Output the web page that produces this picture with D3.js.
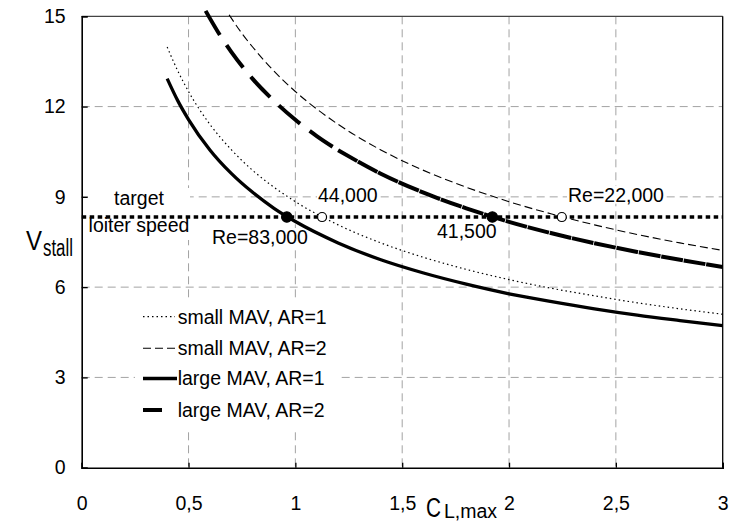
<!DOCTYPE html>
<html><head><meta charset="utf-8">
<script src="https://cdn.jsdelivr.net/npm/d3@7"></script>
<style>
html,body{margin:0;padding:0;background:#fff;}
text{font-family:"Liberation Sans",Arial,sans-serif;fill:#000;}
</style></head>
<body><svg id="c" width="747" height="523"></svg>
<script>
// ---- data ----
const xTicks = [0, 0.5, 1, 1.5, 2, 2.5, 3];
const xTickLabels = ["0", "0,5", "1", "1,5", "2", "2,5", "3"];
const yTicks = [0, 3, 6, 9, 12, 15];
const yTickLabels = ["0", "3", "6", "9", "12", "15"];

const clSmall1 = [0.4, 0.45, 0.5, 0.6, 0.7, 0.8, 0.9, 1.0, 1.2, 1.4, 1.6, 1.8, 2.0, 2.2, 2.4, 2.6, 2.8, 3.0];
const vSmall1  = [13.98, 13.18, 12.50, 11.41, 10.57, 9.88, 9.32, 8.84, 8.07, 7.47, 6.99, 6.59, 6.25, 5.96, 5.71, 5.48, 5.28, 5.10];
const clSmall2 = [0.69, 0.75, 0.8, 0.9, 1.0, 1.1, 1.2, 1.4, 1.6, 1.8, 2.0, 2.2, 2.4, 2.6, 2.8, 3.0];
const vSmall2  = [15.05, 14.43, 13.98, 13.18, 12.50, 11.92, 11.41, 10.56, 9.88, 9.32, 8.84, 8.43, 8.07, 7.75, 7.47, 7.22];
const clLarge1 = [0.4, 0.45, 0.5, 0.6, 0.7, 0.8, 0.9, 1.0, 1.2, 1.4, 1.6, 1.8, 2.0, 2.2, 2.4, 2.6, 2.8, 3.0];
const vLarge1  = [12.93, 12.19, 11.57, 10.56, 9.78, 9.15, 8.62, 8.18, 7.47, 6.91, 6.47, 6.10, 5.78, 5.52, 5.28, 5.07, 4.89, 4.72];
const clLarge2 = [0.58, 0.65, 0.7, 0.8, 0.9, 1.0, 1.1, 1.2, 1.4, 1.6, 1.8, 2.0, 2.2, 2.4, 2.6, 2.8, 3.0];
const vLarge2  = [15.18, 14.34, 13.82, 12.92, 12.19, 11.56, 11.02, 10.55, 9.77, 9.14, 8.62, 8.17, 7.79, 7.46, 7.17, 6.91, 6.67];

const targetSpeed = 8.33;
const markerCL = [0.96, 1.125, 1.922, 2.247];
const markerFilled = [true, false, true, false];
const markerLabels = ["Re=83,000", "44,000", "41,500", "Re=22,000"];

const legendLabels = ["small MAV, AR=1", "small MAV, AR=2", "large MAV, AR=1", "large MAV, AR=2"];

// ---- chart ----
const svg = d3.select("#c");
const x = d3.scaleLinear().domain([0, 3]).range([81.7, 722.7]);
const y = d3.scaleLinear().domain([0, 15]).range([467.7, 16.3]);
const FS = 19.5;

// grid
const grid = svg.append("g").attr("stroke", "#a3a3a3").attr("stroke-width", 1).attr("stroke-dasharray", "8,5");
xTicks.filter(d => d > 0 && d < 3).forEach(d => {
  grid.append("line").attr("x1", x(d)).attr("x2", x(d)).attr("y1", y(15)).attr("y2", y(0));
});
yTicks.filter(d => d > 0 && d < 15).forEach(d => {
  grid.append("line").attr("x1", x(0)).attr("x2", x(3)).attr("y1", y(d)).attr("y2", y(d));
});

// frame
svg.append("line").attr("x1", x(0)).attr("x2", x(3)).attr("y1", y(15)).attr("y2", y(15)).attr("stroke", "#444").attr("stroke-width", 1.3);
svg.append("line").attr("x1", x(3)).attr("x2", x(3)).attr("y1", y(15)).attr("y2", y(0)).attr("stroke", "#000").attr("stroke-width", 1.3);

// axes
const xAxis = d3.axisBottom(x).tickValues(xTicks).tickSize(-5).tickFormat((d, i) => xTickLabels[i]).tickPadding(28);
const gx = svg.append("g").attr("transform", `translate(0,${y(0)})`).call(xAxis);
gx.select(".domain").attr("stroke", "#000").attr("stroke-width", 1.6);
gx.selectAll(".tick line").attr("stroke", "#000").attr("stroke-width", 1.3);
gx.selectAll(".tick text").style("font-size", FS + "px").style("font-family", "Liberation Sans, Arial, sans-serif");

const yAxis = d3.axisLeft(y).tickValues(yTicks).tickSize(-6).tickFormat((d, i) => yTickLabels[i]).tickPadding(16);
const gy = svg.append("g").attr("transform", `translate(${x(0)},0)`).call(yAxis);
gy.select(".domain").attr("stroke", "#000").attr("stroke-width", 1.6);
gy.selectAll(".tick line").attr("stroke", "#000").attr("stroke-width", 1.3);
gy.selectAll(".tick text").style("font-size", FS + "px").style("font-family", "Liberation Sans, Arial, sans-serif");

// axis titles
svg.append("text").attr("x", 26).attr("y", 250).style("font-size", "28px")
  .attr("textLength", 16).attr("lengthAdjust", "spacingAndGlyphs").text("V");
svg.append("text").attr("x", 43).attr("y", 256).style("font-size", "23px")
  .attr("textLength", 30).attr("lengthAdjust", "spacingAndGlyphs").text("stall");
svg.append("text").attr("x", 426).attr("y", 517).style("font-size", "27px")
  .attr("textLength", 15).attr("lengthAdjust", "spacingAndGlyphs").text("C");
svg.append("text").attr("x", 444).attr("y", 518).style("font-size", FS + "px").text("L,max");

// label boxes + texts
const lab = svg.append("g");
function plainText(tx, ty, str, anchor) {
  return lab.append("text").attr("x", tx).attr("y", ty).attr("text-anchor", anchor || "start").style("font-size", FS + "px").text(str);
}
lab.append("rect").attr("x", 88).attr("y", 188).attr("width", 102).attr("height", 52).attr("fill", "#fff");
const labelPos = [
  {x: 212, y: 244}, {x: 318, y: 201.7}, {x: 437, y: 238.3}, {x: 568, y: 201.7}
];
const labelTexts = markerLabels.map((s, i) => plainText(labelPos[i].x, labelPos[i].y, s));
plainText(139, 205, "target", "middle");
plainText(139, 232, "loiter speed", "middle");
labelTexts.forEach(t => {
  const b = t.node().getBBox();
  lab.insert("rect", "text").attr("x", b.x - 1).attr("y", b.y + 2).attr("width", b.width + 2).attr("height", b.height - 4).attr("fill", "#fff");
});

// curves
const line = d3.line().x(d => x(d[0])).y(d => y(d[1])).curve(d3.curveMonotoneX);
const zip = (a, b) => a.map((v, i) => [v, b[i]]);
const curves = svg.append("g").attr("fill", "none").attr("stroke", "#000");
curves.append("path").attr("d", line(zip(clSmall1, vSmall1))).attr("stroke-width", 1.2).attr("stroke-dasharray", "1.5,3");
curves.append("path").attr("d", line(zip(clSmall2, vSmall2))).attr("stroke-width", 1.1).attr("stroke-dasharray", "8,4");
curves.append("path").attr("d", line(zip(clLarge1, vLarge1))).attr("stroke-width", 3.3);
const l2 = zip(clLarge2, vLarge2);
curves.append("path").attr("d", line(l2.filter(d => d[0] <= 1.2))).attr("stroke-width", 4).attr("stroke-dasharray", "28,12");
curves.append("path").attr("d", line(l2.filter(d => d[0] >= 1.2))).attr("stroke-width", 4).attr("stroke-dasharray", "22,0.8");

// target line
svg.append("line").attr("x1", x(0)).attr("x2", x(3)).attr("y1", y(targetSpeed)).attr("y2", y(targetSpeed))
  .attr("stroke", "#000").attr("stroke-width", 3.6).attr("stroke-dasharray", "4.5,3.5");

// markers
markerCL.forEach((c, i) => {
  svg.append("circle").attr("cx", x(c)).attr("cy", y(targetSpeed)).attr("r", markerFilled[i] ? 5.2 : 4.5)
    .attr("fill", markerFilled[i] ? "#000" : "#fff").attr("stroke", "#000").attr("stroke-width", 1.2);
});

// legend
const lg = svg.append("g");
lg.append("rect").attr("x", 135).attr("y", 299).attr("width", 206).attr("height", 129).attr("fill", "#fff");
const legRowY = [316.7, 348.3, 378.5, 410];
const legStyles = [
  {w: 1.2, d: "1.5,3", x2: 175},
  {w: 1.1, d: "8,4", x2: 175},
  {w: 3.3, d: null, x2: 177},
  {w: 4, d: null, x2: 162}
];
legendLabels.forEach((s, i) => {
  const st = legStyles[i];
  const ln = lg.append("line").attr("x1", 143).attr("x2", st.x2).attr("y1", legRowY[i]).attr("y2", legRowY[i])
    .attr("stroke", "#000").attr("stroke-width", st.w);
  if (st.d) ln.attr("stroke-dasharray", st.d);
  lg.append("text").attr("x", 177.7).attr("y", legRowY[i] + 6.8).style("font-size", FS + "px").text(s);
});
</script>
</body></html>
